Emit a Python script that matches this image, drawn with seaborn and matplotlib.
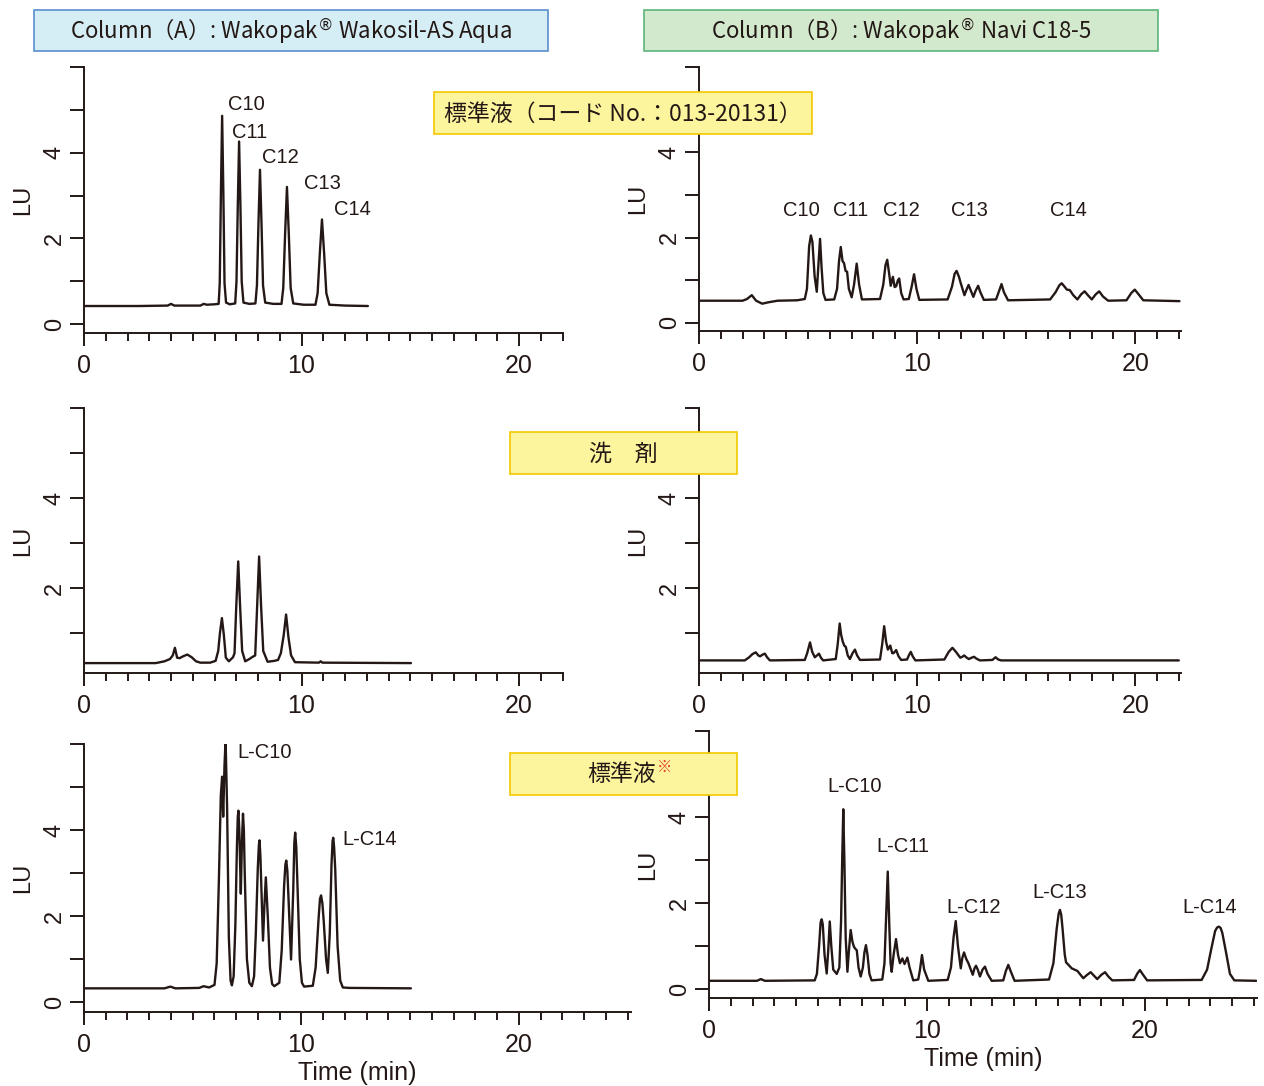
import numpy as np
import pandas as pd
import seaborn as sns
import matplotlib.pyplot as plt
from matplotlib.patches import Rectangle

# chromatogram traces: (time [min], signal [LU])
a1_trace = [(0, 0.42), (2.5, 0.42), (3.85, 0.43), (4.0, 0.47), (4.15, 0.43), (5.35, 0.43), (5.5, 0.47),
            (5.65, 0.45), (6.0, 0.46), (6.19, 0.47), (6.24, 0.95), (6.295, 3.1), (6.35, 4.86), (6.405, 3.1),
            (6.46, 0.95), (6.53, 0.5), (6.7, 0.46), (6.95, 0.48), (7.01, 0.99), (7.07, 2.77), (7.13, 4.26),
            (7.19, 2.77), (7.25, 0.99), (7.33, 0.5), (7.6, 0.47), (7.88, 0.48), (7.95, 0.9), (8.02, 2.35),
            (8.09, 3.6), (8.16, 2.35), (8.23, 0.9), (8.33, 0.5), (8.7, 0.47), (9.08, 0.47), (9.16, 0.84),
            (9.245, 2.1), (9.33, 3.2), (9.415, 2.1), (9.5, 0.84), (9.62, 0.48), (10.1, 0.45), (10.64, 0.45),
            (10.74, 0.72), (10.84, 1.64), (10.94, 2.44), (11.04, 1.64), (11.14, 0.72), (11.28, 0.45),
            (12.0, 0.43), (13.05, 0.42)]

b1_trace = [(0, 0.52), (2.0, 0.52), (2.2, 0.56), (2.42, 0.65), (2.62, 0.52), (2.9, 0.45), (3.15, 0.48),
            (3.6, 0.52), (4.5, 0.53), (4.85, 0.56), (4.95, 0.8), (5.05, 1.8), (5.13, 2.05), (5.2, 1.9),
            (5.3, 1.1), (5.4, 0.73), (5.48, 1.4), (5.55, 1.97), (5.62, 1.3), (5.7, 0.7), (5.8, 0.54),
            (6.2, 0.55), (6.33, 0.8), (6.42, 1.45), (6.5, 1.78), (6.58, 1.45), (6.65, 1.4), (6.72, 1.22),
            (6.79, 1.2), (6.87, 0.8), (7.0, 0.6), (7.11, 0.9), (7.23, 1.39), (7.34, 0.9), (7.47, 0.55),
            (8.3, 0.56), (8.45, 0.9), (8.55, 1.35), (8.63, 1.48), (8.72, 1.15), (8.79, 0.87), (8.89, 1.08),
            (8.97, 0.84), (9.04, 0.86), (9.12, 1.0), (9.18, 1.04), (9.27, 0.7), (9.38, 0.55), (9.62, 0.56),
            (9.75, 0.85), (9.86, 1.14), (9.97, 0.8), (10.1, 0.54), (11.4, 0.55), (11.6, 0.85),
            (11.72, 1.15), (11.81, 1.22), (11.92, 1.08), (11.99, 0.95), (12.17, 0.65), (12.26, 0.77),
            (12.36, 0.89), (12.46, 0.76), (12.58, 0.61), (12.68, 0.75), (12.8, 0.87), (12.9, 0.72),
            (13.06, 0.54), (13.62, 0.55), (13.76, 0.75), (13.87, 0.91), (13.98, 0.72), (14.17, 0.53),
            (16.1, 0.55), (16.35, 0.72), (16.52, 0.88), (16.63, 0.93), (16.76, 0.85), (16.87, 0.78),
            (17.0, 0.77), (17.16, 0.65), (17.35, 0.55), (17.52, 0.67), (17.68, 0.74), (17.83, 0.65),
            (18.01, 0.55), (18.19, 0.67), (18.35, 0.74), (18.52, 0.62), (18.76, 0.52), (19.6, 0.53),
            (19.82, 0.7), (19.98, 0.78), (20.14, 0.68), (20.37, 0.53), (22.03, 0.51)]

a2_trace = [(0, 0.33), (3.3, 0.33), (3.7, 0.37), (3.95, 0.42), (4.08, 0.5), (4.18, 0.67), (4.28, 0.45),
            (4.4, 0.44), (4.55, 0.48), (4.75, 0.52), (4.95, 0.46), (5.15, 0.37), (5.35, 0.34), (5.8, 0.34),
            (6.05, 0.38), (6.17, 0.6), (6.25, 1.0), (6.34, 1.33), (6.43, 0.95), (6.52, 0.45), (6.66, 0.37),
            (6.85, 0.46), (6.92, 0.55), (7.0, 1.6), (7.09, 2.59), (7.18, 1.55), (7.27, 0.6), (7.41, 0.37),
            (7.6, 0.42), (7.75, 0.47), (7.87, 0.5), (7.96, 1.6), (8.05, 2.7), (8.14, 1.6), (8.24, 0.6),
            (8.44, 0.36), (8.75, 0.38), (8.92, 0.4), (9.05, 0.55), (9.18, 0.95), (9.29, 1.41), (9.4, 0.9),
            (9.52, 0.5), (9.7, 0.35), (10.8, 0.34), (10.88, 0.37), (10.96, 0.34), (15.03, 0.33)]

b2_trace = [(0, 0.39), (2.1, 0.39), (2.3, 0.46), (2.45, 0.53), (2.6, 0.57), (2.72, 0.5), (2.8, 0.48),
            (2.92, 0.52), (3.02, 0.54), (3.12, 0.46), (3.25, 0.39), (4.85, 0.4), (4.96, 0.55), (5.09, 0.79),
            (5.19, 0.58), (5.31, 0.46), (5.41, 0.5), (5.5, 0.54), (5.59, 0.45), (5.69, 0.39), (6.27, 0.42),
            (6.36, 0.75), (6.45, 1.21), (6.52, 0.95), (6.59, 0.81), (6.66, 0.72), (6.73, 0.69), (6.82, 0.5),
            (6.92, 0.42), (7.04, 0.55), (7.15, 0.63), (7.25, 0.5), (7.38, 0.4), (8.3, 0.41), (8.4, 0.75),
            (8.49, 1.15), (8.58, 0.8), (8.66, 0.63), (8.77, 0.72), (8.86, 0.55), (8.92, 0.55), (9.04, 0.62),
            (9.15, 0.48), (9.27, 0.4), (9.54, 0.41), (9.62, 0.5), (9.71, 0.58), (9.8, 0.48), (9.92, 0.39),
            (11.25, 0.41), (11.45, 0.58), (11.62, 0.67), (11.78, 0.58), (11.98, 0.45), (12.07, 0.47),
            (12.16, 0.5), (12.25, 0.46), (12.37, 0.42), (12.5, 0.45), (12.61, 0.47), (12.72, 0.43),
            (12.88, 0.39), (13.45, 0.4), (13.6, 0.46), (13.72, 0.41), (13.85, 0.39), (22.0, 0.39)]

a3_trace = [(0, 0.32), (3.7, 0.32), (3.97, 0.36), (4.2, 0.32), (5.3, 0.33), (5.5, 0.37), (5.75, 0.34),
            (6.0, 0.4), (6.1, 0.9), (6.2, 2.8), (6.29, 4.8), (6.35, 5.24), (6.4, 4.31), (6.46, 5.5),
            (6.51, 6.1), (6.58, 4.5), (6.66, 1.5), (6.74, 0.5), (6.8, 0.39), (6.88, 0.6), (6.96, 1.8),
            (7.03, 3.6), (7.07, 4.3), (7.1, 4.45), (7.14, 4.0), (7.21, 2.52), (7.26, 3.7), (7.31, 4.38),
            (7.35, 4.0), (7.39, 3.0), (7.49, 1.0), (7.6, 0.45), (7.72, 0.37), (7.82, 0.6), (7.9, 1.6),
            (7.99, 3.1), (8.04, 3.65), (8.07, 3.76), (8.11, 3.4), (8.23, 1.43), (8.3, 2.3), (8.36, 2.9),
            (8.45, 2.0), (8.55, 0.8), (8.65, 0.42), (8.75, 0.37), (8.98, 0.45), (9.09, 1.2), (9.2, 2.7),
            (9.26, 3.2), (9.3, 3.29), (9.35, 3.05), (9.52, 0.99), (9.62, 2.6), (9.67, 3.7), (9.71, 3.94),
            (9.76, 3.6), (9.81, 2.8), (9.92, 1.0), (10.02, 0.45), (10.12, 0.36), (10.52, 0.38),
            (10.65, 0.8), (10.78, 1.9), (10.85, 2.4), (10.9, 2.48), (10.96, 2.3), (11.02, 1.9), (11.13, 1.0),
            (11.21, 0.68), (11.3, 1.6), (11.38, 3.2), (11.43, 3.75), (11.46, 3.82), (11.5, 3.6),
            (11.55, 3.1), (11.66, 1.3), (11.78, 0.5), (11.9, 0.34), (12.2, 0.33), (15.03, 0.32)]

b3_trace = [(0, 0.19), (2.2, 0.19), (2.38, 0.23), (2.56, 0.19), (4.85, 0.2), (4.95, 0.35), (5.05, 1.0),
            (5.12, 1.55), (5.17, 1.62), (5.22, 1.5), (5.3, 0.8), (5.4, 0.36), (5.47, 0.9), (5.54, 1.57),
            (5.61, 1.0), (5.7, 0.45), (5.86, 0.35), (5.98, 0.5), (6.06, 1.6), (6.11, 3.0), (6.16, 4.18),
            (6.21, 3.0), (6.27, 1.2), (6.35, 0.4), (6.42, 0.9), (6.5, 1.37), (6.58, 1.1), (6.65, 0.98),
            (6.72, 0.93), (6.78, 0.9), (6.86, 0.5), (6.96, 0.29), (7.06, 0.5), (7.13, 0.85), (7.2, 1.02),
            (7.27, 0.8), (7.36, 0.35), (7.46, 0.2), (7.95, 0.22), (8.05, 0.6), (8.12, 1.6), (8.2, 2.73),
            (8.27, 1.5), (8.33, 0.6), (8.38, 0.4), (8.47, 0.8), (8.58, 1.16), (8.67, 0.8), (8.76, 0.6),
            (8.87, 0.71), (8.97, 0.58), (9.1, 0.73), (9.2, 0.5), (9.37, 0.2), (9.6, 0.22), (9.68, 0.45),
            (9.77, 0.79), (9.87, 0.45), (10.06, 0.19), (10.95, 0.21), (11.1, 0.5), (11.22, 1.2),
            (11.32, 1.58), (11.42, 1.0), (11.55, 0.48), (11.62, 0.72), (11.7, 0.85), (11.8, 0.7),
            (11.9, 0.6), (12.1, 0.33), (12.18, 0.48), (12.25, 0.54), (12.33, 0.45), (12.43, 0.29),
            (12.55, 0.45), (12.66, 0.52), (12.78, 0.35), (12.97, 0.19), (13.5, 0.2), (13.62, 0.42),
            (13.73, 0.56), (13.85, 0.4), (14.02, 0.19), (15.6, 0.22), (15.8, 0.6), (15.95, 1.4),
            (16.04, 1.75), (16.1, 1.84), (16.16, 1.72), (16.22, 1.4), (16.32, 0.8), (16.38, 0.62),
            (16.64, 0.48), (16.9, 0.42), (17.17, 0.25), (17.35, 0.33), (17.51, 0.39), (17.66, 0.31),
            (17.81, 0.23), (18.0, 0.33), (18.17, 0.39), (18.32, 0.29), (18.5, 0.2), (19.5, 0.21),
            (19.65, 0.36), (19.77, 0.44), (19.9, 0.34), (20.1, 0.2), (22.6, 0.21), (22.85, 0.45),
            (23.05, 0.95), (23.22, 1.35), (23.31, 1.43), (23.39, 1.45), (23.47, 1.42), (23.55, 1.3),
            (23.72, 0.85), (23.9, 0.35), (24.1, 0.2), (25.1, 0.19)]

# peak names and where they sit (time, LU)
a1_peaks = ["C10", "C11", "C12", "C13", "C14"]
a1_peak_pos = [(6.62, 5.12), (6.8, 4.48), (8.18, 3.88), (10.11, 3.28), (11.49, 2.68)]
b1_peaks = ["C10", "C11", "C12", "C13", "C14"]
b1_peak_pos = [(4.7, 2.63), (6.95, 2.63), (9.3, 2.63), (12.41, 2.63), (16.95, 2.63)]
a3_peaks = ["L-C10", "L-C14"]
a3_peak_pos = [(7.03, 5.81), (11.9, 3.79)]
b3_peaks = ["L-C10", "L-C11", "L-C12", "L-C13", "L-C14"]
b3_peak_pos = [(6.7, 4.72), (8.91, 3.31), (12.13, 1.9), (16.07, 2.25), (22.98, 1.9)]

INK = "#231815"
W, H = 1264, 1086

sns.set_style("ticks")
plt.rcParams["font.family"] = ["Liberation Sans", "Noto Sans CJK JP", "DejaVu Sans"]

fig = plt.figure(figsize=(W / 100, H / 100), dpi=100)


def add_ax(x0, y0, x1, y1):
    return fig.add_axes([x0 / W, 1 - y1 / H, (x1 - x0) / W, (y1 - y0) / H])


def draw_panel(ax, trace, xmax, ymin, xlabel=False):
    df = pd.DataFrame(trace, columns=["time", "lu"])
    sns.lineplot(data=df, x="time", y="lu", ax=ax, color=INK, linewidth=1.7,
                 estimator=None, sort=False, solid_joinstyle="round")
    sns.despine(ax=ax)
    for s in ("left", "bottom"):
        ax.spines[s].set_color(INK)
        ax.spines[s].set_linewidth(1.4)
    ax.set_xticks([0, 10, 20])
    ax.set_xticks(np.arange(0, int(round(xmax)) + 1), minor=True)
    ax.set_xticklabels(["0", "10", "20"])
    ax.set_yticks(range(7))
    ax.set_yticklabels(["0", "", "2", "", "4", "", ""])
    # limits after the ticks, so the tick call does not widen them
    ax.set_xlim(0, xmax)
    ax.set_ylim(ymin, 6)
    ax.tick_params(axis="x", which="major", length=9, width=1.4, color=INK,
                   labelsize=18, pad=6, labelcolor=INK)
    ax.tick_params(axis="x", which="minor", length=6, width=1.4, color=INK)
    ax.tick_params(axis="y", length=10, width=1.4, color=INK, labelsize=17,
                   pad=3, labelrotation=90, labelcolor=INK)
    for lab in ax.get_yticklabels():
        lab.set_va("center")
    ax.set_ylabel("LU", fontsize=17, color=INK, labelpad=7)
    ax.set_xlabel("Time (min)" if xlabel else "", fontsize=18, color=INK, labelpad=3)
    ax.patch.set_alpha(0)


def put_labels(ax, names, pos, ha="left"):
    for name, (t, v) in zip(names, pos):
        ax.text(t, v, name, fontsize=14.5, color=INK, ha=ha, va="center")


ax_a1 = add_ax(84, 67, 563, 333)
draw_panel(ax_a1, a1_trace, 22.02, -0.21)
put_labels(ax_a1, a1_peaks, a1_peak_pos)

ax_b1 = add_ax(699, 67, 1181, 331)
draw_panel(ax_b1, b1_trace, 22.1, -0.19)
put_labels(ax_b1, b1_peaks, b1_peak_pos, ha="center")

ax_a2 = add_ax(84, 408, 563, 673)
draw_panel(ax_a2, a2_trace, 22.02, 0.11)

ax_b2 = add_ax(699, 408, 1181, 673)
draw_panel(ax_b2, b2_trace, 22.1, 0.11)

ax_a3 = add_ax(84, 744, 631, 1012)
draw_panel(ax_a3, a3_trace, 25.15, -0.23, xlabel=True)
put_labels(ax_a3, a3_peaks, a3_peak_pos)

ax_b3 = add_ax(709, 731, 1257, 998)
draw_panel(ax_b3, b3_trace, 25.14, -0.21, xlabel=True)
put_labels(ax_b3, b3_peaks, b3_peak_pos, ha="center")


def box(x0, y0, x1, y1, face, edge):
    fig.patches.append(Rectangle((x0 / W, 1 - y1 / H), (x1 - x0) / W, (y1 - y0) / H,
                                 transform=fig.transFigure, facecolor=face,
                                 edgecolor=edge, linewidth=1.2, zorder=5))


jp = ["Noto Sans CJK JP", "DejaVu Sans"]

box(34, 10, 548, 51, "#d5edf4", "#5a8fd0")
fig.text(291 / W, 1 - 31 / H, "Column（A）: Wakopak$^{®}$ Wakosil-AS Aqua", family=jp,
         fontsize=16, color=INK, ha="center", va="center", zorder=6)
box(644, 10, 1158, 51, "#d3e9cd", "#5cb67a")
fig.text(901 / W, 1 - 31 / H, "Column（B）: Wakopak$^{®}$ Navi C18-5", family=jp,
         fontsize=16, color=INK, ha="center", va="center", zorder=6)

box(434, 92, 812, 134, "#fdf59d", "#f3c800")
fig.text(623 / W, 1 - 114 / H, "標準液（コード No.：013-20131）", family=jp,
         fontsize=16.5, color=INK, ha="center", va="center", zorder=6)
box(510, 432, 737, 474, "#fdf59d", "#f3c800")
fig.text(623 / W, 1 - 454 / H, "洗　剤", family=jp,
         fontsize=16.5, color=INK, ha="center", va="center", zorder=6)
box(510, 753, 737, 795, "#fdf59d", "#f3c800")
fig.text(656 / W, 1 - 774 / H, "標準液", family=jp,
         fontsize=16.5, color=INK, ha="right", va="center", zorder=6)
fig.text(657 / W, 1 - 767 / H, "※", family=jp,
         fontsize=11, color="#e8342a", ha="left", va="center", zorder=6)

fig.savefig("out.png", dpi=100)
